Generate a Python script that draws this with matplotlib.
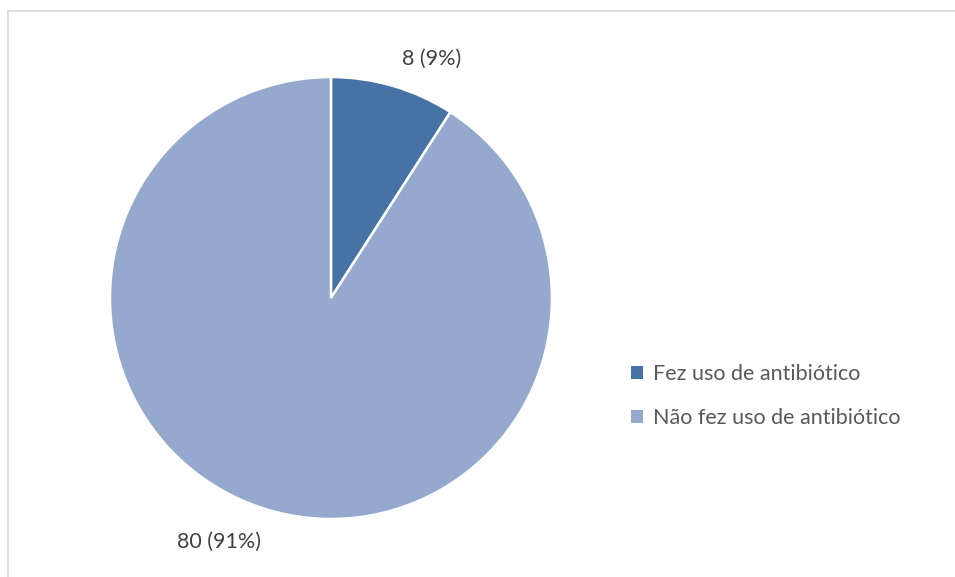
import matplotlib.pyplot as plt
from matplotlib.lines import Line2D

# dados do gráfico
categorias = ["Fez uso de antibiótico", "Não fez uso de antibiótico"]
valores = [8, 80]
cores = ["#4672A6", "#95A9CF"]

# posição dos rótulos (em unidades do raio)
pos_rotulos = [(0.457, 1.081), (-0.507, -1.104)]


def main():
    plt.rcParams["font.family"] = ["Lato", "DejaVu Sans"]

    fig = plt.figure(figsize=(9.55, 5.77), dpi=100)

    # moldura cinza clara
    x0, y0 = 7.5 / 955, 1 - 10.5 / 577
    fig.add_artist(Line2D([x0, x0], [0, y0], color="#D9D9D9", lw=1.2))
    fig.add_artist(Line2D([x0, 1], [y0, y0], color="#D9D9D9", lw=1.2))

    ax = fig.add_axes([0.0573, 0.00477, 0.5785, 0.9575])
    wedges, _ = ax.pie(valores, colors=cores, startangle=90, counterclock=False,
                       radius=1, wedgeprops=dict(edgecolor="white", linewidth=1.8))
    ax.set_xlim(-1.25, 1.25)
    ax.set_ylim(-1.25, 1.25)
    ax.set_aspect("equal")
    ax.axis("off")

    total = sum(valores)
    for v, (px, py) in zip(valores, pos_rotulos):
        pct = round(100 * v / total)
        ax.text(px, py, f"{v} ({pct}%)", ha="center", va="center",
                fontsize=15.5, color="#404040")

    # marcadores quadrados sem contorno branco na legenda
    handles = [plt.Rectangle((0, 0), 1, 1, facecolor=c, edgecolor="none") for c in cores]
    fig.legend(handles, categorias, loc="center left",
               bbox_to_anchor=(612 / 955, 1 - 396 / 577), frameon=False,
               fontsize=15.5, labelcolor="#595959", handlelength=0.55,
               handleheight=0.55, handletextpad=0.45, labelspacing=1.09)

    fig.savefig("out.png", dpi=100)


if __name__ == "__main__":
    main()
